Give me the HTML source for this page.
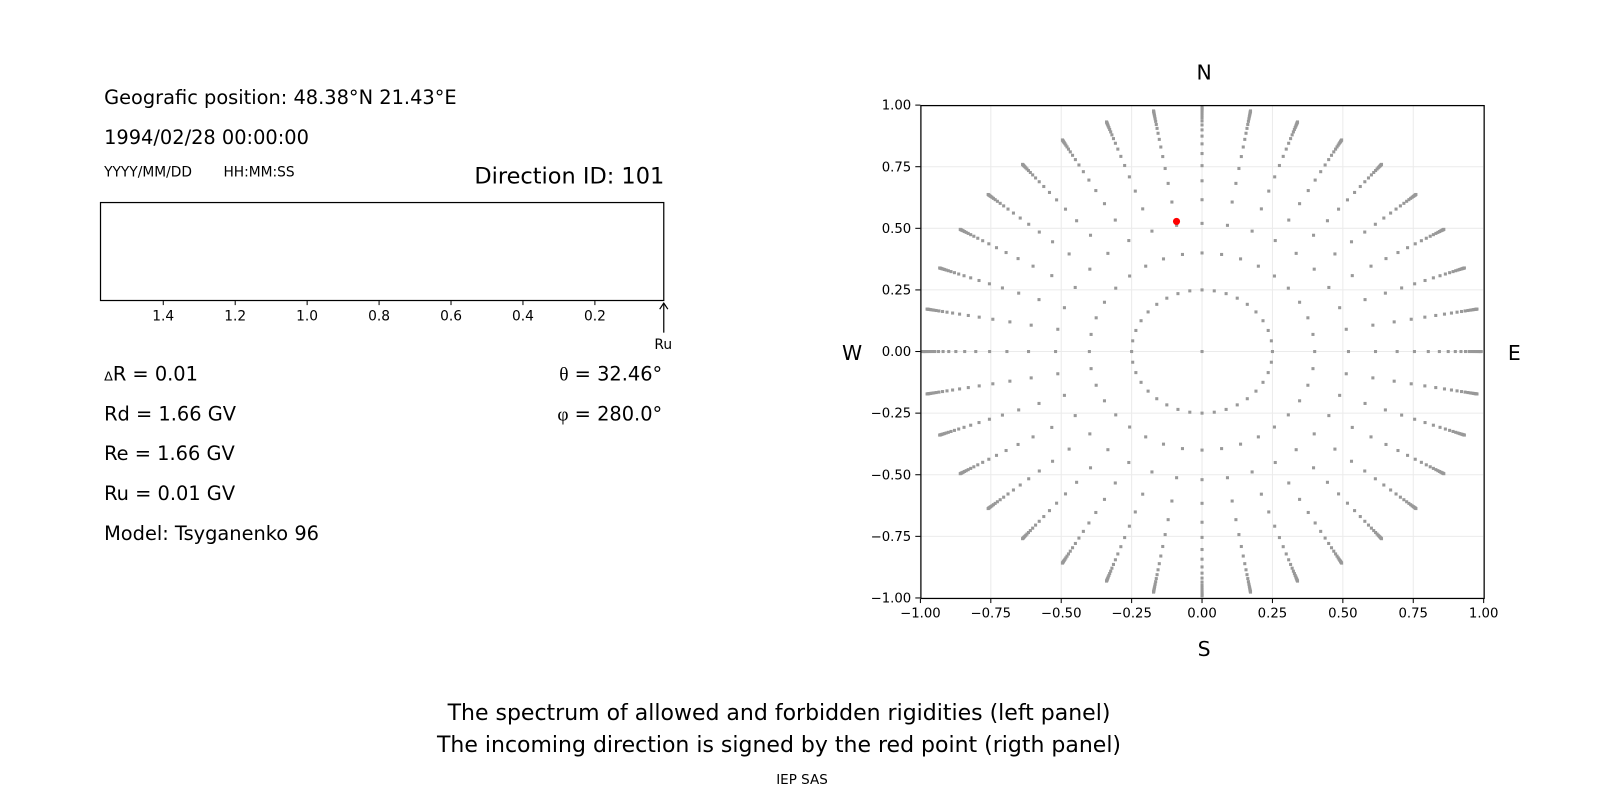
<!DOCTYPE html>
<html><head><meta charset="utf-8"><style>
body{margin:0;background:#fff;}
svg text{font-family:"DejaVu Sans","Liberation Sans",sans-serif;fill:#000;}
</style></head><body>
<svg id="s" width="1600" height="800" xmlns="http://www.w3.org/2000/svg">
<rect width="1600" height="800" fill="#fff"/>
<g transform="scale(1.0204)">
<text x="102" y="102" font-size="19">Geografic position: 48.38°N 21.43°E</text>
<text x="102" y="141" font-size="19">1994/02/28 00:00:00</text>
<text x="102" y="173" font-size="13.5">YYYY/MM/DD</text>
<text x="219" y="173" font-size="13.5">HH:MM:SS</text>
<text x="651" y="180" font-size="22" text-anchor="end">Direction ID: 101</text>
<rect x="98.5" y="198.5" width="552" height="96" fill="none" stroke="#000" stroke-width="1.2"/>
<g font-size="13.5" text-anchor="middle">
<line x1="160" y1="295" x2="160" y2="299" stroke="#000"/><text x="160" y="314">1.4</text>
<line x1="230.5" y1="295" x2="230.5" y2="299" stroke="#000"/><text x="230.5" y="314">1.2</text>
<line x1="301" y1="295" x2="301" y2="299" stroke="#000"/><text x="301" y="314">1.0</text>
<line x1="371.5" y1="295" x2="371.5" y2="299" stroke="#000"/><text x="371.5" y="314">0.8</text>
<line x1="442" y1="295" x2="442" y2="299" stroke="#000"/><text x="442" y="314">0.6</text>
<line x1="512.5" y1="295" x2="512.5" y2="299" stroke="#000"/><text x="512.5" y="314">0.4</text>
<line x1="583" y1="295" x2="583" y2="299" stroke="#000"/><text x="583" y="314">0.2</text>
</g>
<line x1="650.5" y1="298" x2="650.5" y2="326" stroke="#000" stroke-width="1.2"/>
<path d="M646.5 303 L650.5 297 L654.5 303" fill="none" stroke="#000" stroke-width="1.2"/>
<text x="650" y="342" font-size="13.5" text-anchor="middle">Ru</text>
<g font-size="19">
<text x="102" y="373"><tspan font-size="12.5">Δ</tspan>R = 0.01</text>
<text x="102" y="412">Rd = 1.66 GV</text>
<text x="102" y="451">Re = 1.66 GV</text>
<text x="102" y="490">Ru = 0.01 GV</text>
<text x="102" y="529">Model: Tsyganenko 96</text>
<text x="649" y="373" text-anchor="end"><tspan font-family="Liberation Serif,serif">θ</tspan> = 32.46°</text>
<text x="649" y="412" text-anchor="end"><tspan font-family="Liberation Serif,serif">φ</tspan> = 280.0°</text>
</g>
</g>
<g transform="scale(1.0204)">
<g id="grid" stroke="#ebebeb" stroke-width="1"></g>
<g id="dots" fill="#999"></g>
<circle cx="1153" cy="217" r="3.5" fill="#ff0000"/>
<rect x="902.5" y="103.5" width="552" height="483" fill="none" stroke="#000" stroke-width="1.2"/>
<g id="ticks" font-size="13"></g>
<g font-size="20" text-anchor="middle">
<text x="1180" y="78">N</text>
<text x="1180" y="643">S</text>
<text x="835" y="353">W</text>
<text x="1484" y="353">E</text>
</g>
</g>
<g font-size="22" text-anchor="middle">
<text x="779" y="720">The spectrum of allowed and forbidden rigidities (left panel)</text>
<text x="779" y="752">The incoming direction is signed by the red point (rigth panel)</text>
</g>
<text x="802" y="784" font-size="13.5" text-anchor="middle">IEP SAS</text>
</svg>
<script>
var NS="http://www.w3.org/2000/svg";
var cx=1178,cy=344.5,rx=276,ry=241.5;
function el(t,a,p){var e=document.createElementNS(NS,t);for(var k in a)e.setAttribute(k,a[k]);if(p)document.getElementById(p).appendChild(e);return e;}
var vals=[-1,-0.75,-0.5,-0.25,0,0.25,0.5,0.75,1];
vals.forEach(function(v){
 var x=cx+v*rx,y=cy-v*ry;
 el("line",{x1:x,y1:103,x2:x,y2:586},"grid");
 el("line",{x1:902,y1:y,x2:1454,y2:y},"grid");
 el("line",{x1:x,y1:587,x2:x,y2:591,stroke:"#000"},"ticks");
 el("line",{x1:897,y1:y,x2:902,y2:y,stroke:"#000"},"ticks");
 var t=el("text",{x:x,y:605,"text-anchor":"middle"},"ticks");t.textContent=v.toFixed(2).replace("-","−");
 var t2=el("text",{x:893,y:y+4.5,"text-anchor":"end"},"ticks");t2.textContent=v.toFixed(2).replace("-","−");
});
el("rect",{x:cx-1.5,y:cy-1.5,width:3,height:3},"dots");
var rs=[];for(var k=0;k<40;k++){var r=1-0.75*Math.pow(0.8,k);if(r>0.992)break;rs.push(r);}
for(var a=0;a<360;a+=10){var th=a*Math.PI/180;
 rs.forEach(function(r){var x=cx+r*Math.cos(th)*rx,y=cy-r*Math.sin(th)*ry;
  el("rect",{x:x-1.5,y:y-1.5,width:3,height:3},"dots");});}
</script>
</body></html>
